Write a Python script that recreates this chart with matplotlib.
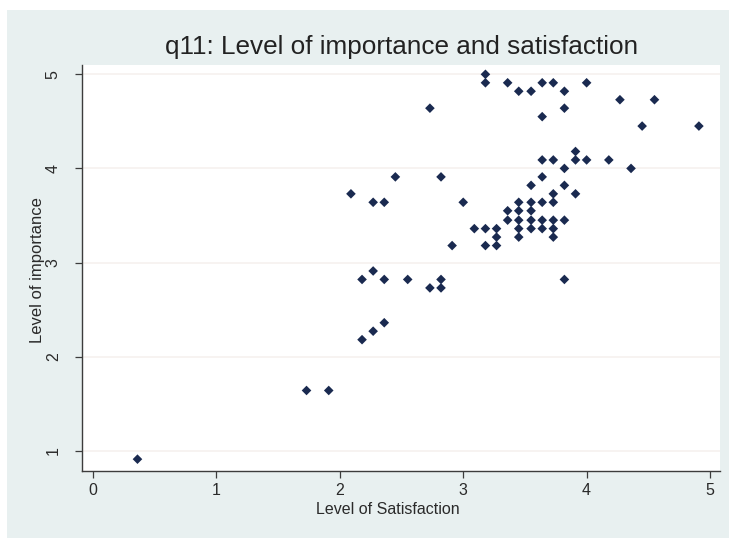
import matplotlib
matplotlib.use("Agg")
import matplotlib.pyplot as plt
from matplotlib.patches import Rectangle

# Level of satisfaction (x) and level of importance (y) for each respondent
satisfaction = [
    3.18, 3.18, 3.36, 3.45, 3.55, 3.64, 3.73, 3.82, 4.00, 4.27, 4.55, 3.82,
    3.64, 2.73, 4.45, 4.91,
    3.91, 3.64, 3.73, 3.91, 4.00, 4.18, 3.82, 4.36,
    2.45, 2.82, 3.64, 3.55, 3.82, 2.09, 3.73, 3.91,
    2.27, 2.36, 3.00, 3.45, 3.55, 3.64, 3.73,
    3.36, 3.45, 3.55,
    3.36, 3.45, 3.55, 3.64, 3.73, 3.82,
    3.09, 3.18, 3.27, 3.45, 3.55, 3.64, 3.73,
    3.27, 3.45, 3.73,
    2.91, 3.18, 3.27,
    2.27, 2.18, 2.36, 2.55, 2.82, 3.82, 2.73, 2.82,
    2.36, 2.27, 2.18, 1.73, 1.91, 0.36,
]
importance = [
    5.00, 4.91, 4.91, 4.82, 4.82, 4.91, 4.91, 4.82, 4.91, 4.73, 4.73, 4.64,
    4.55, 4.64, 4.45, 4.45,
    4.18, 4.09, 4.09, 4.09, 4.09, 4.09, 4.00, 4.00,
    3.91, 3.91, 3.91, 3.82, 3.82, 3.73, 3.73, 3.73,
    3.64, 3.64, 3.64, 3.64, 3.64, 3.64, 3.64,
    3.55, 3.55, 3.55,
    3.45, 3.45, 3.45, 3.45, 3.45, 3.45,
    3.36, 3.36, 3.36, 3.36, 3.36, 3.36, 3.36,
    3.27, 3.27, 3.27,
    3.18, 3.18, 3.18,
    2.91, 2.82, 2.82, 2.82, 2.82, 2.82, 2.73, 2.73,
    2.36, 2.27, 2.18, 1.64, 1.64, 0.91,
]

x_ticks = [0, 1, 2, 3, 4, 5]
y_ticks = [1, 2, 3, 4, 5]

title = "q11: Level of importance and satisfaction"
x_label = "Level of Satisfaction"
y_label = "Level of importance"

plt.rcParams["font.family"] = ["Liberation Sans", "DejaVu Sans"]

W, H = 729, 538
fig = plt.figure(figsize=(W / 100, H / 100), dpi=100, facecolor="white")

# light blue-grey graph region behind the white plot region
bg = Rectangle((7 / W, 0), 1 - 7 / W, 1 - 10 / H, transform=fig.transFigure,
               facecolor="#e8f0f0", edgecolor="none", zorder=-10)
fig.add_artist(bg)

ax_left, ax_right, ax_top, ax_bottom = 81.7, 720.0, 65.0, 470.7
ax = fig.add_axes([ax_left / W, (H - ax_bottom) / H,
                   (ax_right - ax_left) / W, (ax_bottom - ax_top) / H])
ax.set_zorder(1)
ax.set_facecolor("white")

ax.set_xlim(-0.092, 5.081)
ax.set_ylim(0.7875, 5.099)

for y in y_ticks:
    ax.axhline(y, color="#f6f1ef", lw=1.2, zorder=1)

ax.scatter(satisfaction, importance, marker="D", s=24, color="#1a2a50",
           edgecolors="none", zorder=3)

for side in ("top", "right"):
    ax.spines[side].set_visible(False)
for side in ("left", "bottom"):
    ax.spines[side].set_color("#3c3c3c")
    ax.spines[side].set_linewidth(1.0)

ax.set_xticks(x_ticks)
ax.set_yticks(y_ticks)
ax.tick_params(axis="both", direction="out", length=5, width=0.9,
               color="#3c3c3c", labelcolor="#2a2a2a", labelsize=11.5)
ax.tick_params(axis="x", pad=4)
ax.tick_params(axis="y", pad=10)
for lab in ax.get_yticklabels():
    lab.set_rotation(90)
    lab.set_verticalalignment("center")

ax_w, ax_h = ax_right - ax_left, ax_bottom - ax_top
ax.set_xlabel(x_label, fontsize=11.5, color="#2a2a2a", va="center")
ax.xaxis.set_label_coords((388 - ax_left) / ax_w, (ax_bottom - 510) / ax_h)
ax.set_ylabel(y_label, fontsize=12, color="#2a2a2a", va="center")
ax.yaxis.set_label_coords((38 - ax_left) / ax_w, (ax_bottom - 270) / ax_h)

fig.text(401.5 / W, 1 - 47 / H, title, ha="center", va="center",
         fontsize=18.8, color="#222222")

fig.savefig("out.png", dpi=100, facecolor="white")
